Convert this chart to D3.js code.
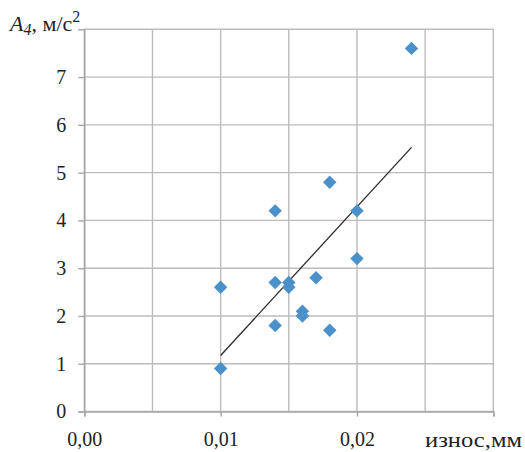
<!DOCTYPE html>
<html>
<head>
<meta charset="utf-8">
<script src="https://cdn.jsdelivr.net/npm/d3@7"></script>
<style>
  body { margin: 0; background: #fff; }
  text { font-family: "Liberation Serif", "Times New Roman", serif; fill: #222; }
</style>
</head>
<body>
<div id="chart"></div>
<script>
// износ, мм
const iznos = [0.010, 0.010, 0.014, 0.014, 0.014, 0.015, 0.015, 0.016, 0.016, 0.017, 0.018, 0.018, 0.020, 0.020, 0.024]
// A4, м/с2
const a4 = [2.6, 0.9, 2.7, 4.2, 1.8, 2.7, 2.6, 2.1, 2.0, 2.8, 4.8, 1.7, 4.2, 3.2, 7.6]

const xTicks = [0, 0.01, 0.02, 0.03]
const xTickLabels = ['0,00', '0,01', '0,02', '']
const xGrid = [0, 0.005, 0.01, 0.015, 0.02, 0.025, 0.03]
const yTicks = [0, 1, 2, 3, 4, 5, 6, 7]
const yGrid = [0, 1, 2, 3, 4, 5, 6, 7, 8]

const width = 525,
  height = 452,
  plotLeft = 84.3,
  plotRight = 493.3,
  plotTop = 29.3,
  plotBottom = 411.5

const svg = d3.select('#chart')
  .append('svg')
  .attr('width', width)
  .attr('height', height)

const x = d3.scaleLinear().domain([0, 0.03]).range([plotLeft, plotRight])
const y = d3.scaleLinear().domain([0, 8]).range([plotBottom, plotTop])

const gridColor = '#bcbcbc'

// grid
svg.append('g').selectAll('line')
  .data(xGrid)
  .enter().append('line')
  .attr('x1', d => x(d)).attr('x2', d => x(d))
  .attr('y1', plotTop).attr('y2', plotBottom)
  .attr('stroke', gridColor).attr('stroke-width', 1.4)

svg.append('g').selectAll('line')
  .data(yGrid)
  .enter().append('line')
  .attr('x1', plotLeft).attr('x2', plotRight)
  .attr('y1', d => y(d)).attr('y2', d => y(d))
  .attr('stroke', gridColor).attr('stroke-width', 1.4)

// axes
const xAxis = svg.append('g')
  .attr('transform', `translate(0,${plotBottom})`)
  .call(d3.axisBottom(x).tickValues(xTicks)
    .tickFormat((d, i) => xTickLabels[i]).tickSize(5).tickPadding(10))

const yAxis = svg.append('g')
  .attr('transform', `translate(${plotLeft},0)`)
  .call(d3.axisLeft(y).tickValues(yTicks).tickFormat(d3.format('d')).tickSize(6).tickPadding(12))

;[xAxis, yAxis].forEach(g => {
  g.select('.domain').attr('stroke', '#a6a6a6').attr('stroke-width', 1.5)
  g.selectAll('.tick line').attr('stroke', '#a6a6a6').attr('stroke-width', 1.4)
  g.selectAll('.tick text')
    .attr('font-family', '"Liberation Serif", serif')
    .attr('font-size', 20)
    .attr('fill', '#222')
})
xAxis.selectAll('.tick text').attr('dy', '0.95em')

// trend line (least squares)
const mx = d3.mean(iznos), my = d3.mean(a4)
const slope = d3.sum(iznos, (v, i) => (v - mx) * (a4[i] - my)) / d3.sum(iznos, v => (v - mx) * (v - mx))
const trendX = d3.extent(iznos)

svg.append('line')
  .attr('x1', x(trendX[0])).attr('y1', y(my + slope * (trendX[0] - mx)))
  .attr('x2', x(trendX[1])).attr('y2', y(my + slope * (trendX[1] - mx)))
  .attr('stroke', '#2b2b2b').attr('stroke-width', 1.3)

// points
const diamond = d3.symbol().type(d3.symbolSquare).size(90)

svg.append('g').selectAll('path')
  .data(iznos)
  .enter().append('path')
  .attr('d', diamond)
  .attr('transform', (d, i) => `translate(${x(d)},${y(a4[i])}) rotate(45)`)
  .attr('fill', '#4a90c9')

// labels
const title = svg.append('text')
  .attr('x', 10).attr('y', 31)
  .attr('font-size', 22)
title.append('tspan').attr('font-style', 'italic').text('A')
title.append('tspan').attr('font-style', 'italic').attr('font-size', 16).attr('dy', 4).text('4')
title.append('tspan').attr('dy', -4).text(', м/с')
title.append('tspan').attr('font-size', 16).attr('dy', -9).text('2')

svg.append('text')
  .attr('x', 425).attr('y', 447)
  .attr('font-size', 20)
  .attr('textLength', 97)
  .attr('lengthAdjust', 'spacingAndGlyphs')
  .text('износ,мм')
</script>
</body>
</html>
